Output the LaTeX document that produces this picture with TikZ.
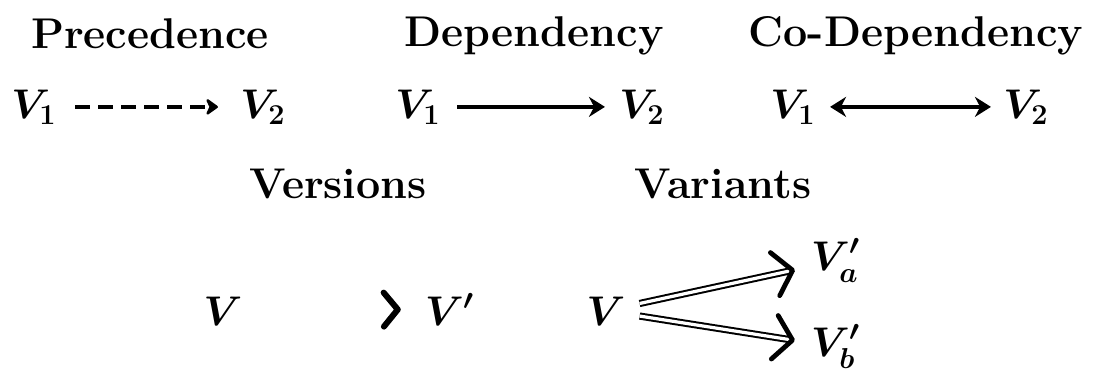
\documentclass[tikz,border=0pt]{standalone}
\usepackage{amsmath}
\usetikzlibrary{arrows.meta}
\begin{document}
\begin{tikzpicture}[x=0.5pt,y=-0.5pt,
  ttl/.style={font=\fontsize{21.5}{25}\selectfont\bfseries, anchor=base, inner sep=0pt},
  vv/.style={font=\fontsize{21.5}{25}\selectfont\boldmath, anchor=base, inner sep=3pt},
  conn/.style={line width=2pt},
  dsh/.style={conn, dash pattern=on 7.5pt off 4pt, -{Stealth[length=7pt,width=10pt,round]}},
  sol/.style={conn, -{Stealth[length=8pt,width=10pt]}},
  bisol/.style={conn, {Stealth[length=8pt,width=10pt]}-{Stealth[length=8pt,width=10pt]}},
  dbl/.style={line width=1pt, double, double distance=1.6pt, -{Straight Barb[length=9pt,width=22pt,line width=2.4pt,round]}, shorten <=4pt, shorten >=5pt},
]
\useasboundingbox (0,0) rectangle (1097,376);
% titles
\node[ttl] (tp) at (150,48) {Precedence};
\node[ttl] (td) at (534,46) {Dependency};
\node[ttl] (tc) at (916,46) {Co-Dependency};
\node[ttl] (tv) at (338,198) {Versions};
\node[ttl] (tr) at (723,198) {Variants};
% row 1
\node[vv] (a1) at (34,118) {$V_1$};
\node[vv] (a2) at (263,118) {$V_2$};
\node[vv] (b1) at (418,118) {$V_1$};
\node[vv] (b2) at (642,118) {$V_2$};
\node[vv] (c1) at (793,118) {$V_1$};
\node[vv] (c2) at (1026,118) {$V_2$};
\draw[dsh] ([xshift=6pt]a1.east) -- ([xshift=-8pt]a2.west);
\draw[sol, shorten <=5pt, shorten >=4pt] (b1.east) -- (b2.west);
\draw[bisol, shorten <=4pt, shorten >=3pt] (c1.east) -- (c2.west);
% row 2
\node[vv] (v) at (223,325) {$V$};
\node[vv] (vp) at (450,325) {$V'$};
\draw[white, -{Straight Barb[black, length=7pt, width=17pt, line width=3pt, round]}] (v) -- ([xshift=-9pt]vp.west);
\node[vv] (w) at (606,325) {$V$};
\node[vv] (wa) at (836,270) {$V'_a$};
\node[vv] (wb) at (836,356) {$V'_b$};
\draw[dbl] (w) -- (wa);
\draw[dbl] (w) -- (wb);
\end{tikzpicture}
\end{document}
